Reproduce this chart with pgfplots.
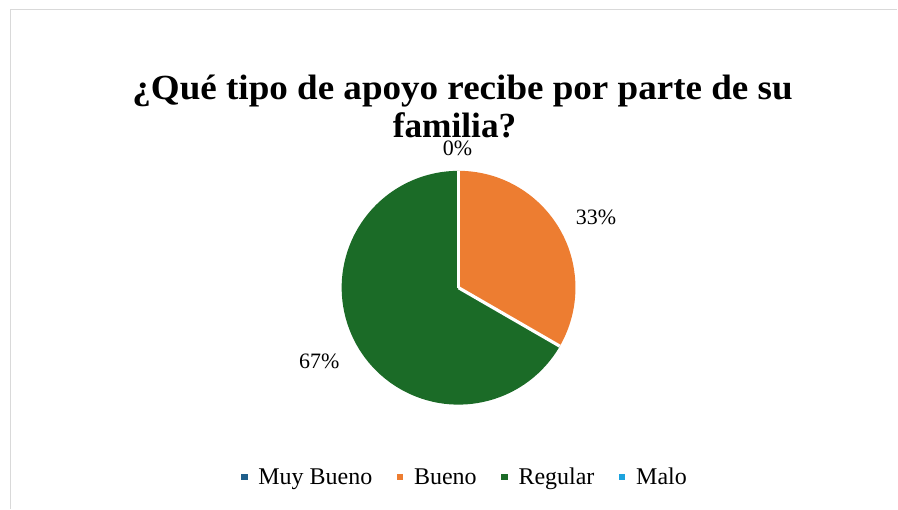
\documentclass[border=0pt]{standalone}
\usepackage{pgfplots}
\pgfplotsset{compat=1.18}
\usepackage{fontspec}
\setmainfont{Liberation Serif}
\definecolor{cMB}{HTML}{1F5F8B}
\definecolor{cB}{HTML}{ED7D31}
\definecolor{cR}{HTML}{1B6B27}
\definecolor{cM}{HTML}{1CA3DE}
\definecolor{frame}{HTML}{D9D9D9}
% counts per category: Muy Bueno, Bueno, Regular, Malo
\def\vMB{0}\def\vB{1}\def\vR{2}\def\vM{0}
\begin{document}
\begin{tikzpicture}
\begin{axis}[
  scale only axis, width=673.5pt, height=381.75pt,
  xmin=0, xmax=898, ymin=0, ymax=509,
  hide axis, clip=false,
  legend columns=4,
  legend style={draw=none, fill=none, at={(axis description cs:0.5187,0.0609)}, anchor=center,
    font=\fontsize{18}{21}\selectfont,
    /tikz/every odd column/.append style={column sep=6.5pt},
    /tikz/every even column/.append style={column sep=16.5pt},
    legend image code/.code={\fill[#1] (0pt,-1.2pt) rectangle (4pt,2.8pt);},
    inner sep=0pt},
]
\pgfmathsetmacro{\tot}{\vMB+\vB+\vR+\vM}
\pgfmathsetmacro{\aA}{90}
\pgfmathsetmacro{\aB}{\aA-360*\vMB/\tot}
\pgfmathsetmacro{\aC}{\aB-360*\vB/\tot}
\pgfmathsetmacro{\aD}{\aC-360*\vR/\tot}
\def\rad{87.75pt}
\path (axis cs:0,0) rectangle (axis cs:898,509);
\draw[frame, line width=1.3pt] (axis cs:10.5,0) -- (axis cs:10.5,499.5) -- (axis cs:898,499.5);
\fill[cB] (axis cs:459,221) -- ++(\aB:\rad) arc[start angle=\aB, end angle=\aC, radius=\rad] -- cycle;
\fill[cR] (axis cs:459,221) -- ++(\aC:\rad) arc[start angle=\aC, end angle=\aD, radius=\rad] -- cycle;
\draw[white, line width=2.4pt] (axis cs:459,221) -- ++(\aB:\rad);
\draw[white, line width=2.4pt] (axis cs:459,221) -- ++(\aC:\rad);
\addlegendimage{cMB}\addlegendentry{Muy Bueno}
\addlegendimage{cB}\addlegendentry{Bueno}
\addlegendimage{cR}\addlegendentry{Regular}
\addlegendimage{cM}\addlegendentry{Malo}
\node[font=\fontsize{26.5}{30}\selectfont\bfseries, anchor=base, xscale=1.05, inner sep=0pt] at (axis cs:463,409) {¿Qué tipo de apoyo recibe por parte de su};
\node[font=\fontsize{26.5}{30}\selectfont\bfseries, anchor=base, inner sep=0pt] at (axis cs:455,371) {familia?};
\node[font=\fontsize{16.5}{20}\selectfont, anchor=base, inner sep=0pt] at (axis cs:458,353) {0\%};
\node[font=\fontsize{16.5}{20}\selectfont, anchor=base, inner sep=0pt] at (axis cs:596.5,284) {33\%};
\node[font=\fontsize{16.5}{20}\selectfont, anchor=base, inner sep=0pt] at (axis cs:319.5,140) {67\%};
\end{axis}
\end{tikzpicture}
\end{document}
